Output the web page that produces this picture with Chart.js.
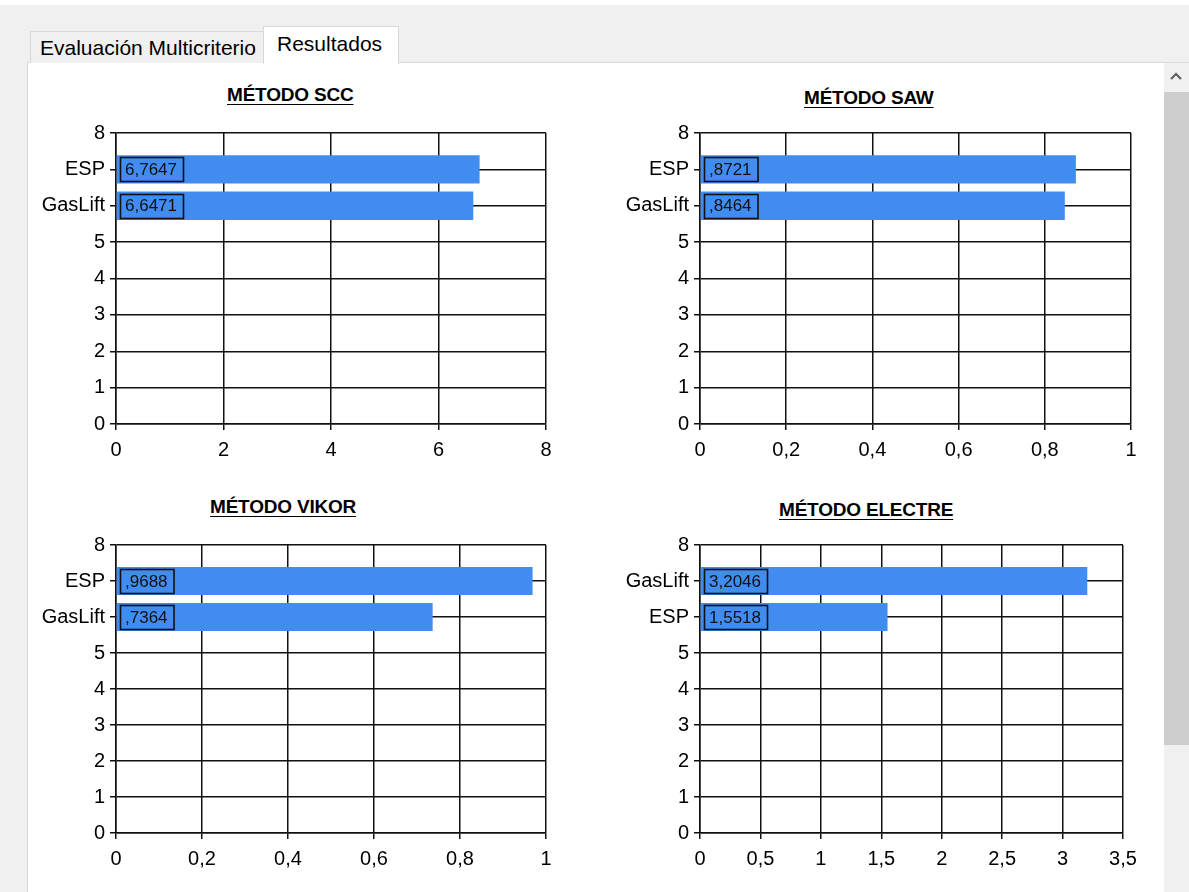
<!DOCTYPE html>
<html>
<head>
<meta charset="utf-8">
<title>Resultados</title>
<script src="https://cdn.jsdelivr.net/npm/chart.js@4.4.1/dist/chart.umd.min.js"></script>
<style>
    body { margin: 0; width: 1189px; height: 892px; background: #f0f0f0; position: relative; overflow: hidden;
           font-family: "Liberation Sans", Arial, sans-serif; }
    .topline { position: absolute; left: 0; top: 0; width: 1189px; height: 5px; background: #fff; }
    .panel { position: absolute; left: 27px; top: 62px; width: 1162px; height: 830px; background: #fff;
             border-top: 1px solid #d9d9d9; border-left: 1px solid #d9d9d9; }
    .tab { position: absolute; box-sizing: border-box; border: 1px solid #d9d9d9; border-bottom: none;
           font-size: 21px; color: #000; white-space: nowrap; }
    .tab.off { left: 30px; top: 31px; width: 234px; height: 32px; background: #f0f0f0; padding: 4px 0 0 9px; }
    .tab.on { left: 263px; top: 26px; width: 136px; height: 38px; background: #fff; padding: 5px 0 0 13px; }
    .scroll { position: absolute; left: 1164px; top: 63px; width: 25px; height: 829px; background: #f0f0f0; }
    .thumb { position: absolute; left: 1164px; top: 92px; width: 25px; height: 653px; background: #cdcdcd; }
    .arrow { position: absolute; left: 1169px; top: 70px; }
    .title { position: absolute; font-weight: bold; font-size: 19px; line-height: 19px; color: #000;
             text-decoration: underline; text-underline-offset: 3px; white-space: nowrap; letter-spacing: -0.2px; }
    canvas { position: absolute; }
</style>
</head>
<body>
<div class="topline"></div>
<div class="panel"></div>
<div class="tab off">Evaluación Multicriterio</div>
<div class="tab on">Resultados</div>
<div class="scroll"></div>
<div class="thumb"></div>
<svg class="arrow" width="14" height="12"><polyline points="2,9 7,4 12,9" fill="none" stroke="#606060" stroke-width="2.2"/></svg>

<div class="title" style="left:227px;top:85px">MÉTODO SCC</div>
<div class="title" style="left:804px;top:88px">MÉTODO SAW</div>
<div class="title" style="left:210px;top:497px">MÉTODO VIKOR</div>
<div class="title" style="left:779px;top:500px">MÉTODO ELECTRE</div>

<canvas id="sccChart" width="545" height="370" style="left:28px;top:110px"></canvas>
<canvas id="sawChart" width="545" height="370" style="left:612px;top:110px"></canvas>
<canvas id="vikorChart" width="545" height="370" style="left:28px;top:520px"></canvas>
<canvas id="electreChart" width="545" height="370" style="left:612px;top:520px"></canvas>

<script>
// values
const sccCategories = ['ESP', 'GasLift'];
const sccValues = [6.7647, 6.6471];
const sccXTicks = [0, 2, 4, 6, 8];

const sawCategories = ['ESP', 'GasLift'];
const sawValues = [0.8721, 0.8464];
const sawXTicks = [0, 0.2, 0.4, 0.6, 0.8, 1];

const vikorCategories = ['ESP', 'GasLift'];
const vikorValues = [0.9688, 0.7364];
const vikorXTicks = [0, 0.2, 0.4, 0.6, 0.8, 1];

const electreCategories = ['GasLift', 'ESP'];
const electreValues = [3.2046, 1.5518];
const electreXTicks = [0, 0.5, 1, 1.5, 2, 2.5, 3, 3.5];

const yTicks = [0, 1, 2, 3, 4, 5, 6, 7, 8];

const BAR_COLOR = '#418cf0';
const FONT = '"Liberation Sans", Arial, sans-serif';

// 0.8721 -> ",8721" like the original labels
function fmtValue(v) {
    return v.toFixed(4).replace('.', ',').replace(/^0,/, ',');
}
function fmtTick(v) {
    return String(Number(v.toFixed(2))).replace('.', ',');
}

// boxed value label at the start of each bar
const valueBoxes = {
    id: 'valueBoxes',
    afterDatasetsDraw(chart) {
        const ctx = chart.ctx;
        const meta = chart.getDatasetMeta(0);
        const ds = chart.data.datasets[0];
        ctx.save();
        ctx.font = '17px ' + FONT;
        ctx.textBaseline = 'middle';
        meta.data.forEach((bar, i) => {
            const text = fmtValue(ds.data[i].x);
            const w = ctx.measureText(text).width + 11;
            const x = Math.round(bar.base) + 3;
            const y = Math.round(bar.y) - 12;
            ctx.strokeStyle = '#111';
            ctx.lineWidth = 1.6;
            ctx.strokeRect(x + 0.5, y + 0.5, w, 24);
            ctx.fillStyle = '#111';
            ctx.fillText(text, x + 5, bar.y + 1);
        });
        ctx.restore();
    }
};

// box = canvas rect on page, plot = wanted plot area on page
function makeChart(id, categories, values, xTicks, box, plot) {
    const yMax = yTicks[yTicks.length - 1];
    const points = values.map((v, i) => ({ x: v, y: yMax - 1 - i }));
    const nameAt = {};
    categories.forEach((c, i) => { nameAt[yMax - 1 - i] = c; });

    return new Chart(document.getElementById(id), {
        type: 'bar',
        data: {
            datasets: [{
                data: points,
                backgroundColor: BAR_COLOR,
                borderWidth: 0,
                barPercentage: 0.78,
                categoryPercentage: 1
            }]
        },
        options: {
            indexAxis: 'y',
            responsive: false,
            animation: false,
            devicePixelRatio: 1,
            layout: {
                padding: { top: plot.top - box.top, right: box.left + box.width - plot.right, left: 0, bottom: 0 }
            },
            plugins: { legend: { display: false }, tooltip: { enabled: false } },
            scales: {
                x: {
                    type: 'linear',
                    min: xTicks[0],
                    max: xTicks[xTicks.length - 1],
                    afterBuildTicks: s => { s.ticks = xTicks.map(v => ({ value: v })); },
                    afterFit: s => { s.height = box.top + box.height - plot.bottom; },
                    grid: { color: '#111', lineWidth: 1.5, tickLength: 6, tickColor: '#111' },
                    border: { color: '#111', width: 1.5 },
                    ticks: { color: '#000', padding: 8, font: { size: 20, family: FONT }, callback: v => fmtTick(v) }
                },
                y: {
                    type: 'linear',
                    min: yTicks[0],
                    max: yMax,
                    offset: false,
                    afterBuildTicks: s => { s.ticks = yTicks.map(v => ({ value: v })); },
                    afterFit: s => { s.width = plot.left - box.left; },
                    grid: { offset: false, color: '#111', lineWidth: 1.5, tickLength: 6, tickColor: '#111' },
                    border: { color: '#111', width: 1.5 },
                    ticks: { color: '#000', padding: 5, font: { size: 20, family: FONT },
                             callback: v => nameAt[v] !== undefined ? nameAt[v] : String(v) }
                }
            }
        },
        plugins: [valueBoxes]
    });
}

const topBox = { top: 110, width: 545, height: 370 };
const lowBox = { top: 520, width: 545, height: 370 };

makeChart('sccChart', sccCategories, sccValues, sccXTicks,
    { ...topBox, left: 28 }, { left: 116, right: 546, top: 133, bottom: 424 });
makeChart('sawChart', sawCategories, sawValues, sawXTicks,
    { ...topBox, left: 612 }, { left: 700, right: 1131, top: 133, bottom: 424 });
makeChart('vikorChart', vikorCategories, vikorValues, vikorXTicks,
    { ...lowBox, left: 28 }, { left: 116, right: 546, top: 545, bottom: 833 });
makeChart('electreChart', electreCategories, electreValues, electreXTicks,
    { ...lowBox, left: 612 }, { left: 700, right: 1123, top: 545, bottom: 833 });
</script>
</body>
</html>
